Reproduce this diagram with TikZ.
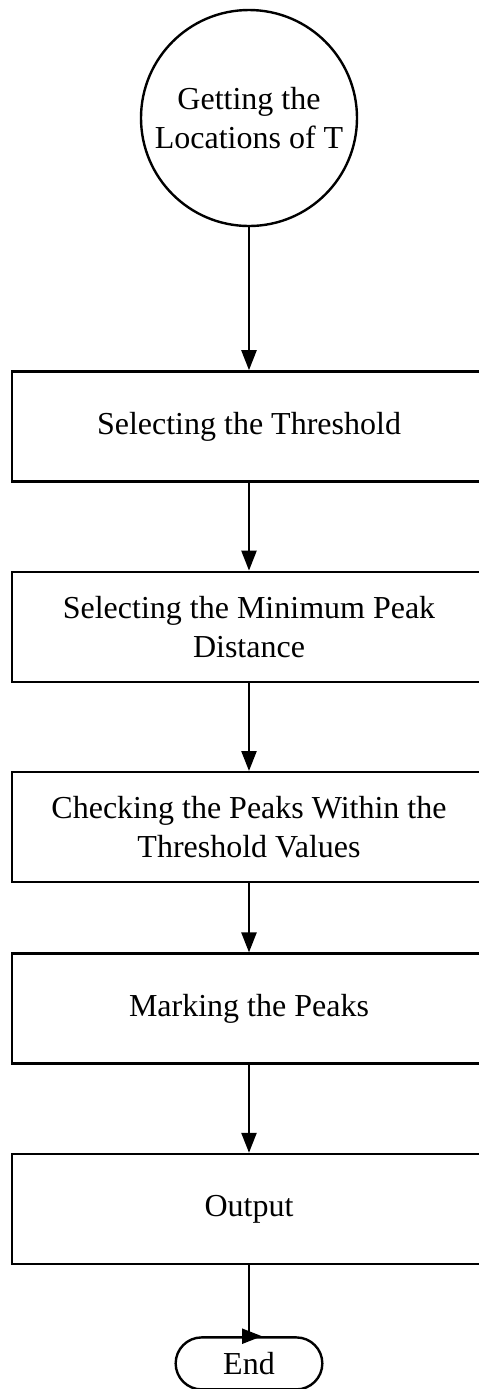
\documentclass[tikz,border=0pt]{standalone}
\usepackage{fontspec}
\setmainfont{Liberation Serif}
\usetikzlibrary{positioning,calc,arrows.meta,shapes.misc}

\begin{document}
\begin{tikzpicture}[font=\fontsize{16}{19.5}\selectfont,line width=1.2pt,
  >={Triangle[length=10pt,width=7.5pt]},
  stepbox/.style={draw,minimum width=237pt,minimum height=55pt,align=center,inner sep=2pt}]
\useasboundingbox (0,0) rectangle (239pt,-694.5pt);
\node[circle,draw,minimum size=108pt,inner sep=0pt,align=center] (S-0) at (124.5pt,-59pt)
  {Getting the\\Locations of T};
\foreach \X/\D [count=\Y,remember=\Y as \LastY (initially 0)] in
{{Selecting the Threshold}/71.5pt, {Selecting the Minimum Peak\\Distance}/44pt,
 {Checking the Peaks Within the\\Threshold Values}/44pt, {Marking the Peaks}/34.5pt,
 {Output}/44pt}
  {\node[stepbox,below=\D of S-\LastY] (S-\Y) {\X};
  \draw[->] (S-\LastY) -- (S-\Y);}
\node[rounded rectangle,draw,minimum width=80pt,minimum height=26pt,below=35.5pt of S-5] (end) {End};
\coordinate (end-tip) at ($(end.north)+(6.5pt,0)$);
\draw[->] (S-5.south) |- (end-tip);
\end{tikzpicture}
\end{document}
